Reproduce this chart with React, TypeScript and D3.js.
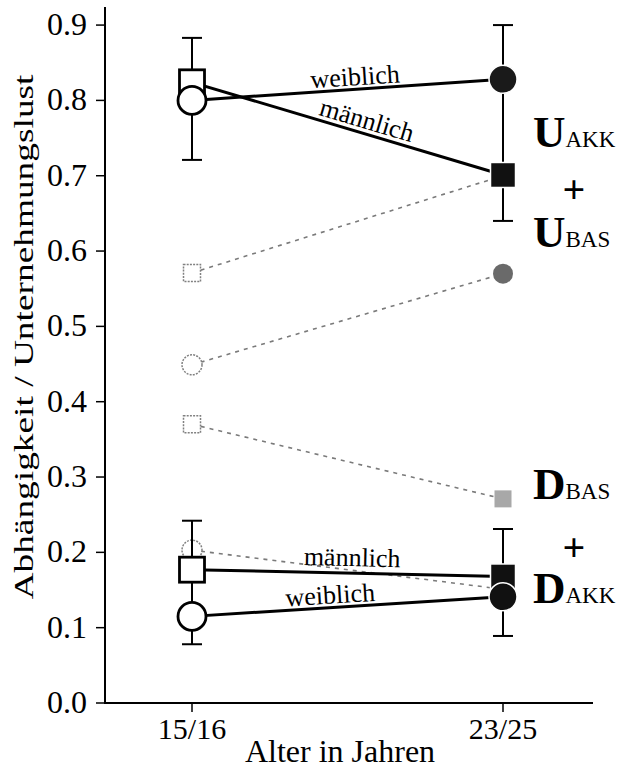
import React from 'react';
import * as d3 from 'd3';

// Alter (categories)
const ages = ['15/16', '23/25'];
const yTicks = [0, 0.1, 0.2, 0.3, 0.4, 0.5, 0.6, 0.7, 0.8, 0.9];

// Unternehmungslust, akkumuliert (solid)
const uAkkWeiblich = [0.8, 0.828];
const uAkkMaennlich = [0.824, 0.701];
// Unternehmungslust, Basis (dashed)
const uBasMaennlich = [0.571, 0.7];
const uBasWeiblich = [0.449, 0.57];
// Abhängigkeit, Basis (dashed)
const dBasMaennlich = [0.37, 0.271];
const dBasWeiblich = [0.203, 0.151];
// Abhängigkeit, akkumuliert (solid)
const dAkkMaennlich = [0.177, 0.168];
const dAkkWeiblich = [0.115, 0.141];

// error bars (low / high) per age
const uAkkErrLow = [0.721, 0.64];
const uAkkErrHigh = [0.883, 0.9];
const dAkkErrLow = [0.078, 0.089];
const dAkkErrHigh = [0.242, 0.231];

const W = 624;
const H = 768;
const FONT = '"Liberation Serif", "Times New Roman", serif';

const x = d3.scalePoint<string>().domain(ages).range([192, 503]);
const y = d3.scaleLinear().domain([0, 0.924]).range([703, 7]);
const axisLeftX = 105;
const axisRightX = 593;

type Series = {
  values: number[];
  shape: 'square' | 'circle';
  solid: boolean;
  fills: string[];
};

const dashedSeries: Series[] = [
  { values: uBasMaennlich, shape: 'square', solid: false, fills: ['#fff', '#777'] },
  { values: uBasWeiblich, shape: 'circle', solid: false, fills: ['#fff', '#6a6a6a'] },
  { values: dBasMaennlich, shape: 'square', solid: false, fills: ['#fff', '#a8a8a8'] },
  { values: dBasWeiblich, shape: 'circle', solid: false, fills: ['#fff', '#888'] },
];

const solidSeries: Series[] = [
  { values: uAkkMaennlich, shape: 'square', solid: true, fills: ['#fff', '#111'] },
  { values: uAkkWeiblich, shape: 'circle', solid: true, fills: ['#fff', '#1a1a1a'] },
  { values: dAkkMaennlich, shape: 'square', solid: true, fills: ['#fff', '#111'] },
  { values: dAkkWeiblich, shape: 'circle', solid: true, fills: ['#fff', '#111'] },
];

const errorBars = [
  { low: uAkkErrLow, high: uAkkErrHigh },
  { low: dAkkErrLow, high: dAkkErrHigh },
];

const lineLabels = [
  { text: 'weiblich', values: uAkkWeiblich, at: 0.527, dy: -4 },
  { text: 'männlich', values: uAkkMaennlich, at: 0.55, dy: -5 },
  { text: 'männlich', values: dAkkMaennlich, at: 0.514, dy: -7 },
  { text: 'weiblich', values: dAkkWeiblich, at: 0.447, dy: -4 },
];

const line = d3
  .line<number>()
  .x((_, i) => x(ages[i]) as number)
  .y((v) => y(v));

function Marker({ s, i }: { s: Series; i: number }) {
  const cx = x(ages[i]) as number;
  const cy = y(s.values[i]);
  const filled = i === 1;
  const size = s.solid ? 25 : 17;
  const stroke = s.solid ? (filled ? '#fff' : '#000') : filled ? 'none' : '#808080';
  const sw = s.solid ? (filled ? 1.5 : 2.8) : 1.5;
  const dash = !s.solid && !filled ? '2,1.2' : undefined;
  if (s.shape === 'square') {
    return (
      <rect
        x={cx - size / 2}
        y={cy - size / 2}
        width={size}
        height={size}
        fill={s.fills[i]}
        stroke={stroke}
        strokeWidth={sw}
        strokeDasharray={dash}
      />
    );
  }
  const r = s.solid ? 14 : 10;
  return <circle cx={cx} cy={cy} r={r} fill={s.fills[i]} stroke={stroke} strokeWidth={sw} strokeDasharray={dash} />;
}

function SideLabel({ big, small, yBase }: { big: string; small: string; yBase: number }) {
  return (
    <text x={533} y={yBase} fontFamily={FONT} fill="#000">
      <tspan fontSize={45} fontWeight="bold">{big}</tspan>
      <tspan fontSize={23}>{small}</tspan>
    </text>
  );
}

export default function App() {
  return (
    <svg width={W} height={H} style={{ position: 'absolute', left: 0, top: 0, background: '#fff' }}>
      {/* axes */}
      <line x1={axisLeftX} x2={axisLeftX} y1={y(0.924)} y2={y(0)} stroke="#000" strokeWidth={2} />
      <line x1={axisLeftX - 1} x2={axisRightX} y1={y(0)} y2={y(0)} stroke="#000" strokeWidth={2} />
      {yTicks.map((t) => (
        <g key={t}>
          <line x1={axisLeftX - 9} x2={axisLeftX} y1={y(t)} y2={y(t)} stroke="#000" strokeWidth={1.5} />
          <text x={87} y={y(t) + 10} textAnchor="end" fontFamily={FONT} fontSize={32}>
            {d3.format('.1f')(t)}
          </text>
        </g>
      ))}
      {ages.map((a) => (
        <g key={a}>
          <line x1={x(a)} x2={x(a)} y1={y(0)} y2={y(0) + 9} stroke="#000" strokeWidth={1.5} />
          <text x={x(a)} y={739} textAnchor="middle" fontFamily={FONT} fontSize={30}>
            {a}
          </text>
        </g>
      ))}
      <text x={340} y={762} textAnchor="middle" fontFamily={FONT} fontSize={32}>
        Alter in Jahren
      </text>
      <text
        transform="translate(33,337) rotate(-90)"
        textAnchor="middle"
        fontFamily={FONT}
        fontSize={28}
        textLength={525}
        lengthAdjust="spacingAndGlyphs"
      >
        Abhängigkeit / Unternehmungslust
      </text>

      {/* dashed base series */}
      {dashedSeries.map((s, k) => (
        <path key={'dl' + k} d={line(s.values) || ''} fill="none" stroke="#7a7a7a" strokeWidth={1.6} strokeDasharray="4,5" />
      ))}
      {dashedSeries.map((s, k) => (
        <g key={'dm' + k}>
          <Marker s={s} i={0} />
          <Marker s={s} i={1} />
        </g>
      ))}

      {/* error bars */}
      {errorBars.map((e, k) =>
        ages.map((a, i) => (
          <g key={'e' + k + i} stroke="#000" strokeWidth={2}>
            <line x1={x(a)} x2={x(a)} y1={y(e.low[i])} y2={y(e.high[i])} />
            <line x1={(x(a) as number) - 10} x2={(x(a) as number) + 10} y1={y(e.low[i])} y2={y(e.low[i])} />
            <line x1={(x(a) as number) - 10} x2={(x(a) as number) + 10} y1={y(e.high[i])} y2={y(e.high[i])} />
          </g>
        ))
      )}

      {/* solid accumulated series */}
      {solidSeries.map((s, k) => (
        <path key={'sl' + k} d={line(s.values) || ''} fill="none" stroke="#000" strokeWidth={3} />
      ))}
      {solidSeries.map((s, k) => (
        <g key={'sm' + k}>
          <Marker s={s} i={0} />
          <Marker s={s} i={1} />
        </g>
      ))}

      {/* line labels */}
      {lineLabels.map((l, k) => {
        const x0 = x(ages[0]) as number;
        const x1 = x(ages[1]) as number;
        const y0 = y(l.values[0]);
        const y1 = y(l.values[1]);
        const px = x0 + (x1 - x0) * l.at;
        const py = y0 + (y1 - y0) * l.at;
        const ang = (Math.atan2(y1 - y0, x1 - x0) * 180) / Math.PI;
        return (
          <text
            key={'ll' + k}
            transform={`translate(${px},${py}) rotate(${ang})`}
            y={l.dy}
            textAnchor="middle"
            fontFamily={FONT}
            fontSize={26}
          >
            {l.text}
          </text>
        );
      })}

      {/* right side labels */}
      <SideLabel big="U" small="AKK" yBase={147} />
      <text x={574} y={203} textAnchor="middle" fontFamily={FONT} fontSize={40} fontWeight="bold">+</text>
      <SideLabel big="U" small="BAS" yBase={247} />
      <SideLabel big="D" small="BAS" yBase={499} />
      <text x={574} y={561} textAnchor="middle" fontFamily={FONT} fontSize={40} fontWeight="bold">+</text>
      <SideLabel big="D" small="AKK" yBase={603} />
    </svg>
  );
}
